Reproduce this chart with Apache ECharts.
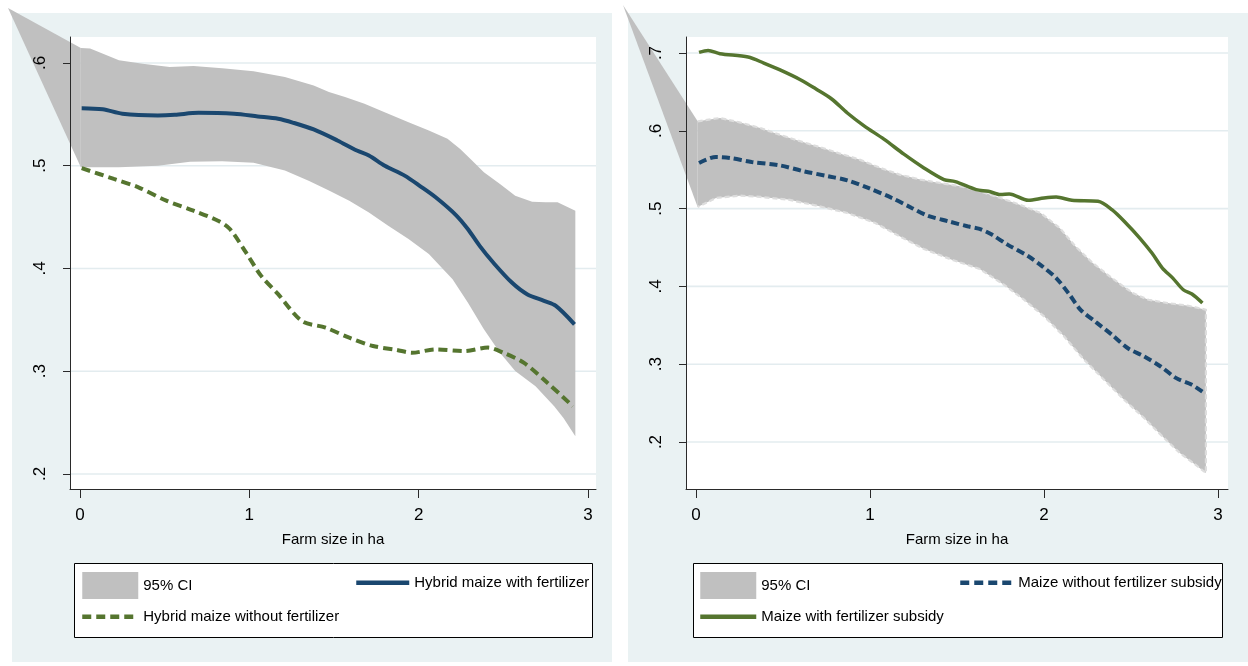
<!DOCTYPE html>
<html>
<head>
<meta charset="utf-8">
<script src="https://cdn.jsdelivr.net/npm/echarts@6/dist/echarts.min.js"></script>
<style>
html,body{margin:0;padding:0;background:#fff;}
#chart{width:1248px;height:666px;}
</style>
</head>
<body>
<div id="chart"></div>
<script>
// ---------- data ----------
const xTickValues = [0, 1, 2, 3];
const xTickLabels = ['0', '1', '2', '3'];
const leftYTickValues = [0.2, 0.3, 0.4, 0.5, 0.6];
const leftYTickLabels = ['.2', '.3', '.4', '.5', '.6'];
const rightYTickValues = [0.2, 0.3, 0.4, 0.5, 0.6, 0.7];
const rightYTickLabels = ['.2', '.3', '.4', '.5', '.6', '.7'];

const xTitle = 'Farm size in ha';
const ciName = '95% CI';
const leftSolidName = 'Hybrid maize with fertilizer';
const leftDashName = 'Hybrid maize without fertilizer';
const rightDashName = 'Maize without fertilizer subsidy';
const rightSolidName = 'Maize with fertilizer subsidy';

// Left panel: hybrid maize
const hybridWithFert = [[0.01,0.556],[0.134,0.555],[0.25,0.5506],[0.46,0.549],[0.56,0.5496],[0.70,0.5515],[0.91,0.5506],[1.05,0.548],[1.17,0.5457],[1.26,0.5418],[1.38,0.5353],[1.52,0.5246],[1.635,0.5148],[1.706,0.51],[1.80,0.50],[1.917,0.4904],[2.01,0.48],[2.10,0.4693],[2.22,0.452],[2.29,0.4384],[2.36,0.422],[2.44,0.4058],[2.55,0.3863],[2.64,0.375],[2.74,0.3685],[2.81,0.3636],[2.92,0.3457]];
const hybridWithoutFert = [[0.01,0.4976],[0.20,0.4872],[0.345,0.479],[0.51,0.466],[0.67,0.4563],[0.815,0.4465],[0.885,0.4384],[0.98,0.4156],[1.07,0.3928],[1.17,0.375],[1.31,0.349],[1.45,0.3424],[1.59,0.3327],[1.73,0.3246],[1.87,0.3207],[1.96,0.318],[2.10,0.3213],[2.27,0.3197],[2.41,0.323],[2.50,0.318],[2.62,0.3083],[2.76,0.2888],[2.91,0.266]];
const leftCIUpper = [[0.005,0.6146],[0.06,0.614],[0.23,0.6026],[0.37,0.5993],[0.53,0.596],[0.67,0.597],[0.84,0.595],[1.025,0.5919],[1.21,0.5863],[1.38,0.5782],[1.47,0.5717],[1.565,0.5668],[1.68,0.5603],[1.82,0.5506],[1.94,0.5424],[2.06,0.5343],[2.17,0.5262],[2.245,0.5164],[2.315,0.505],[2.385,0.4937],[2.48,0.4823],[2.57,0.4709],[2.67,0.465],[2.75,0.4644],[2.82,0.4644],[2.925,0.4563]];
const leftCILower = [[0.005,0.4985],[0.23,0.4985],[0.46,0.5],[0.65,0.504],[0.84,0.5044],[1.025,0.5028],[1.21,0.4953],[1.35,0.4855],[1.47,0.4758],[1.59,0.466],[1.706,0.4546],[1.82,0.4416],[1.94,0.4286],[2.06,0.414],[2.2,0.3896],[2.29,0.3668],[2.385,0.3408],[2.48,0.318],[2.57,0.3002],[2.69,0.2855],[2.8,0.266],[2.855,0.2546],[2.925,0.2367]];
const leftCIStray = [-0.425, 0.6535];

// Right panel: fertilizer subsidy
const withSubsidy = [[0.018,0.7009],[0.07,0.7034],[0.138,0.6991],[0.30,0.6949],[0.39,0.6871],[0.48,0.6786],[0.60,0.6657],[0.69,0.6537],[0.78,0.6409],[0.87,0.6229],[0.966,0.6064],[1.08,0.5893],[1.195,0.57],[1.31,0.5523],[1.425,0.5373],[1.49,0.5347],[1.61,0.5244],[1.68,0.5223],[1.75,0.518],[1.80,0.5189],[1.91,0.5107],[2.0,0.5137],[2.07,0.515],[2.16,0.5107],[2.31,0.5094],[2.39,0.4987],[2.47,0.4816],[2.55,0.4622],[2.62,0.4429],[2.68,0.4236],[2.74,0.4107],[2.80,0.3957],[2.85,0.3902],[2.91,0.3786]];
const withoutSubsidy = [[0.018,0.5587],[0.115,0.5664],[0.195,0.5651],[0.32,0.56],[0.48,0.5557],[0.62,0.548],[0.76,0.5416],[0.87,0.5364],[0.99,0.5266],[1.126,0.5137],[1.24,0.5009],[1.33,0.491],[1.45,0.4837],[1.56,0.4773],[1.63,0.4739],[1.70,0.4666],[1.79,0.4537],[1.91,0.4387],[1.99,0.4258],[2.07,0.4107],[2.14,0.3914],[2.21,0.37],[2.30,0.3538],[2.39,0.3379],[2.48,0.3208],[2.575,0.31],[2.67,0.2971],[2.76,0.2821],[2.85,0.2735],[2.92,0.263]];
const rightCIUpper = [[0.01,0.6122],[0.138,0.6165],[0.25,0.6109],[0.37,0.6036],[0.48,0.5951],[0.60,0.5865],[0.71,0.5792],[0.83,0.5706],[0.94,0.563],[1.06,0.5523],[1.17,0.5437],[1.29,0.5373],[1.40,0.533],[1.52,0.5287],[1.63,0.5223],[1.75,0.5137],[1.86,0.5051],[1.98,0.4944],[2.09,0.4751],[2.18,0.4516],[2.28,0.4301],[2.39,0.4107],[2.51,0.3914],[2.60,0.3828],[2.71,0.3786],[2.83,0.3752],[2.93,0.37]];
const rightCILower = [[0.01,0.5021],[0.115,0.5137],[0.25,0.5167],[0.37,0.515],[0.53,0.5116],[0.71,0.503],[0.87,0.4944],[1.03,0.4816],[1.17,0.4644],[1.31,0.4481],[1.47,0.4344],[1.63,0.4224],[1.77,0.4022],[1.885,0.3829],[2.0,0.3615],[2.115,0.3358],[2.23,0.3058],[2.345,0.2801],[2.46,0.2544],[2.575,0.2308],[2.69,0.2051],[2.78,0.1859],[2.87,0.1709],[2.93,0.1602]];
const rightCIStray = [-0.419, 0.7617];

// ---------- style ----------
const FONT = "'Liberation Sans Narrow', 'Liberation Sans', Arial, sans-serif";
const NAVY = '#1A476F';
const GREEN = '#55752F';
const BAND = '#C0C0C0';
const PANEL_BG = '#EAF2F3';
const GRIDLINE = '#E3ECEF';
const AXIS = '#2a2a2a';

const leftGrid = { left: 70, top: 37, width: 526, height: 452 };
const rightGrid = { left: 686, top: 37, width: 542, height: 452 };

function labelFor(values, labels) {
  return function (v) {
    const i = values.findIndex(t => Math.abs(t - v) < 1e-9);
    return i >= 0 ? labels[i] : '';
  };
}

function bandRenderer(upper, lower, stray, yTicks, outline) {
  return function (params, api) {
    const cs = params.coordSys;
    const children = [];
    yTicks.forEach(t => {
      const y = api.coord([0, t])[1];
      children.push({ type: 'line', shape: { x1: cs.x, y1: y, x2: cs.x + cs.width, y2: y },
        style: { stroke: GRIDLINE, lineWidth: 1.6 } });
    });
    const up = upper.map(p => api.coord(p));
    const lo = lower.map(p => api.coord(p));
    children.push({ type: 'polygon', shape: { points: [api.coord(stray), up[0], lo[0]] }, style: { fill: BAND } });
    children.push({ type: 'polygon', shape: { points: up.concat(lo.slice().reverse()) }, style: { fill: BAND } });
    if (outline) {
      children.push({ type: 'polyline', shape: { points: up.concat(lo.slice().reverse()) },
        style: { stroke: '#DDDDDD', lineWidth: 2.2, lineDash: [5, 3], fill: null } });
    }
    return { type: 'group', children: children };
  };
}

function xAxisCfg(gridIndex, min, max) {
  return {
    gridIndex: gridIndex, type: 'value', min: min, max: max, z: 5,
    axisLine: { show: true, onZero: false, lineStyle: { color: AXIS, width: 1 } },
    axisTick: { show: true, customValues: xTickValues, length: 9, lineStyle: { color: AXIS } },
    axisLabel: { customValues: xTickValues, formatter: labelFor(xTickValues, xTickLabels),
      fontSize: 17, fontFamily: FONT, color: '#000', margin: 18 },
    splitLine: { show: false },
    name: xTitle, nameLocation: 'middle', nameGap: 43,
    nameTextStyle: { fontSize: 15, fontFamily: FONT, color: '#000' }
  };
}
function yAxisCfg(gridIndex, min, max, values, labels) {
  return {
    gridIndex: gridIndex, type: 'value', min: min, max: max, z: 5,
    axisLine: { show: true, onZero: false, lineStyle: { color: AXIS, width: 1 } },
    axisTick: { show: true, customValues: values, length: 7, lineStyle: { color: AXIS } },
    axisLabel: { customValues: values, formatter: labelFor(values, labels), rotate: 90,
      fontSize: 17, fontFamily: FONT, color: '#000', margin: 21 },
    splitLine: { show: false }
  };
}

const seriesLineStyles = {};
seriesLineStyles[leftSolidName] = { width: 4.5, type: 'solid' };
seriesLineStyles[leftDashName] = { width: 4.5, type: [9, 5] };
seriesLineStyles[rightDashName] = { width: 4.5, type: [9, 5] };
seriesLineStyles[rightSolidName] = { width: 4.5, type: 'solid' };

const legendText = { fontSize: 15, fontFamily: FONT, color: '#000' };
function legendCfg(left, names, itemWidth) {
  return {
    left: left, top: 572, orient: 'vertical', itemWidth: itemWidth, itemHeight: 27, itemGap: 7,
    selectedMode: false, textStyle: legendText, padding: 0, z: 6,
    data: names.map(n => n === ciName ? { name: n, icon: 'rect' }
      : { name: n, itemStyle: { opacity: 0 }, lineStyle: seriesLineStyles[n] })
  };
}

const option = {
  animation: false,
  backgroundColor: '#fff',
  graphic: [
    { type: 'rect', z: -10, shape: { x: 12, y: 13, width: 600, height: 649 }, style: { fill: PANEL_BG } },
    { type: 'rect', z: -10, shape: { x: 628, y: 13, width: 620, height: 649 }, style: { fill: PANEL_BG } },
    { type: 'rect', z: 3, shape: { x: 74.5, y: 563.5, width: 518, height: 74 }, style: { fill: '#fff', stroke: '#000', lineWidth: 1 } },
    { type: 'rect', z: 3, shape: { x: 693.5, y: 563.5, width: 529, height: 74 }, style: { fill: '#fff', stroke: '#000', lineWidth: 1 } }
  ],
  grid: [
    Object.assign({ show: true, backgroundColor: '#fff', borderWidth: 0, containLabel: false }, leftGrid),
    Object.assign({ show: true, backgroundColor: '#fff', borderWidth: 0, containLabel: false }, rightGrid)
  ],
  xAxis: [xAxisCfg(0, -0.059, 3.047), xAxisCfg(1, -0.057, 3.057)],
  yAxis: [
    yAxisCfg(0, 0.1854, 0.6253, leftYTickValues, leftYTickLabels),
    yAxisCfg(1, 0.1396, 0.7206, rightYTickValues, rightYTickLabels)
  ],
  legend: [
    legendCfg(80, [ciName, leftDashName], 56),
    legendCfg(354, [leftSolidName], 53),
    legendCfg(698, [ciName, rightSolidName], 56),
    legendCfg(958, [rightDashName], 53)
  ],
  series: [
    { type: 'custom', name: ciName, xAxisIndex: 0, yAxisIndex: 0, z: 1, clip: false, silent: true,
      itemStyle: { color: BAND }, data: [[1, 0.4]],
      renderItem: bandRenderer(leftCIUpper, leftCILower, leftCIStray, leftYTickValues, false) },
    { type: 'line', name: leftSolidName, xAxisIndex: 0, yAxisIndex: 0, z: 2, data: hybridWithFert,
      symbol: 'none', smooth: 0.3, color: NAVY, lineStyle: { color: NAVY, width: 4 } },
    { type: 'line', name: leftDashName, xAxisIndex: 0, yAxisIndex: 0, z: 2, data: hybridWithoutFert,
      symbol: 'none', smooth: 0.3, color: GREEN, lineStyle: { color: GREEN, width: 4, type: [9, 5] } },
    { type: 'custom', name: ciName, xAxisIndex: 1, yAxisIndex: 1, z: 1, clip: false, silent: true,
      itemStyle: { color: BAND }, data: [[1, 0.4]],
      renderItem: bandRenderer(rightCIUpper, rightCILower, rightCIStray, rightYTickValues, true) },
    { type: 'line', name: rightDashName, xAxisIndex: 1, yAxisIndex: 1, z: 2, data: withoutSubsidy,
      symbol: 'none', smooth: 0.3, color: NAVY, lineStyle: { color: NAVY, width: 4, type: [8, 4] } },
    { type: 'line', name: rightSolidName, xAxisIndex: 1, yAxisIndex: 1, z: 2, data: withSubsidy,
      symbol: 'none', smooth: 0.3, color: GREEN, lineStyle: { color: GREEN, width: 3.5 } }
  ]
};

const chart = echarts.init(document.getElementById('chart'), null, { renderer: 'canvas' });
chart.setOption(option);
</script>
</body>
</html>
